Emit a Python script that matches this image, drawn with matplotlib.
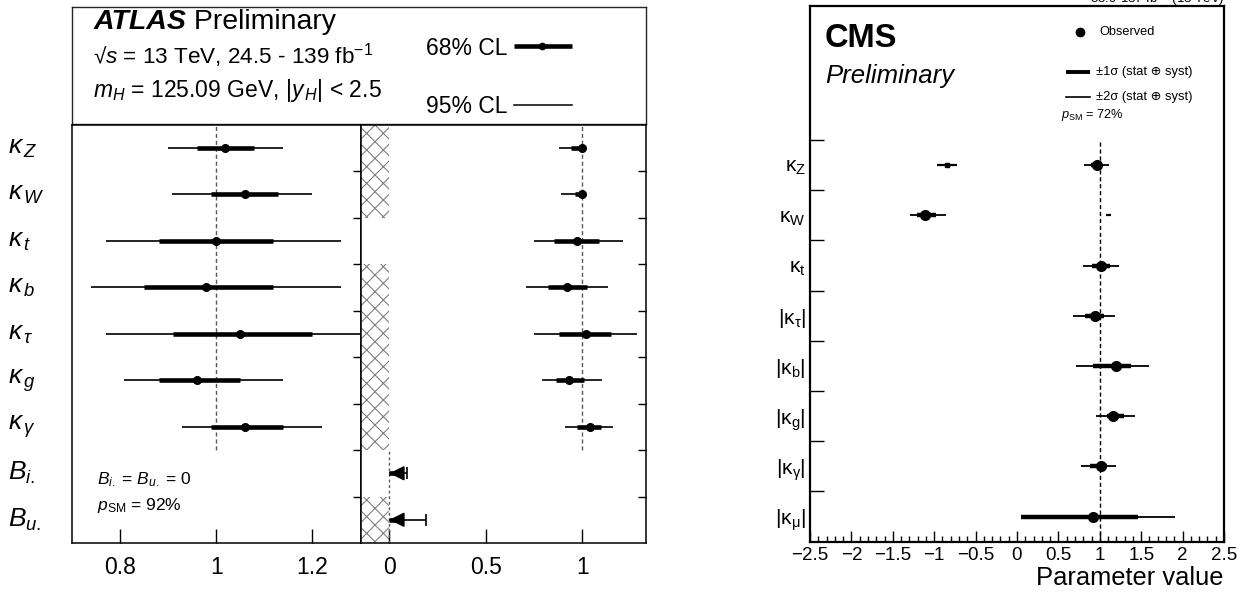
import matplotlib
matplotlib.use('Agg')
import matplotlib.pyplot as plt
import numpy as np
from matplotlib.ticker import MultipleLocator, FixedLocator

plt.rcParams['font.family'] = ['Liberation Sans', 'DejaVu Sans']
plt.rcParams['mathtext.fontset'] = 'custom'
plt.rcParams['mathtext.rm'] = 'Liberation Sans'
plt.rcParams['mathtext.it'] = 'Liberation Sans:italic'
plt.rcParams['mathtext.bf'] = 'Liberation Sans:bold'
plt.rcParams['mathtext.sf'] = 'Liberation Sans'
plt.rcParams['hatch.linewidth'] = 0.8

# ---------------- ATLAS data ----------------
atlas_labels = [r'$\kappa_{\,Z}$', r'$\kappa_{\,W}$', r'$\kappa_{\,t}$', r'$\kappa_{\,b}$',
                r'$\kappa_{\,\tau}$', r'$\kappa_{\,g}$', r'$\kappa_{\,\gamma}$',
                r'$B_{i.}$', r'$B_{u.}$']
# left panel (kappa, B_i.=B_u.=0)
left_c   = [1.019, 1.059, 1.000, 0.979, 1.049, 0.959, 1.059]
left_lo1 = [0.961, 0.990, 0.881, 0.850, 0.910, 0.881, 0.990]
left_hi1 = [1.079, 1.128, 1.119, 1.119, 1.199, 1.049, 1.138]
left_lo2 = [0.899, 0.908, 0.770, 0.739, 0.770, 0.809, 0.929]
left_hi2 = [1.139, 1.200, 1.259, 1.259, 1.320, 1.139, 1.219]
# middle panel (B free, kappa_V <= 1)
mid_c   = [1.000, 1.000, 0.971, 0.921, 1.019, 0.931, 1.040]
mid_lo1 = [0.941, 0.960, 0.853, 0.822, 0.881, 0.862, 0.974]
mid_hi1 = [1.000, 1.000, 1.088, 1.022, 1.149, 1.010, 1.095]
mid_lo2 = [0.879, 0.889, 0.750, 0.708, 0.750, 0.789, 0.910]
mid_hi2 = [1.000, 1.000, 1.212, 1.131, 1.282, 1.102, 1.161]
b_up1 = [0.065, 0.05]
b_up2 = [0.09, 0.19]
hatched = [1, 1, 0, 1, 1, 1, 1, 0, 1]

# ---------------- CMS data ----------------
cms_labels = [r'$\mathrm{\kappa_{Z}}$', r'$\mathrm{\kappa_{W}}$', r'$\mathrm{\kappa_{t}}$',
              r'$\mathrm{|\kappa_{\tau}|}$', r'$\mathrm{|\kappa_{b}|}$', r'$\mathrm{|\kappa_{g}|}$',
              r'$\mathrm{|\kappa_{\gamma}|}$', r'$\mathrm{|\kappa_{\mu}|}$']
cms_c   = [0.962, -1.108, 1.011, 0.938, 1.192, 1.165, 1.011, 0.922]
cms_lo1 = [0.890, -1.208, 0.910, 0.817, 0.914, 1.090, 0.880, 0.054]
cms_hi1 = [1.030, -0.975, 1.123, 1.051, 1.382, 1.293, 1.090, 1.460]
cms_lo2 = [0.809, -1.289, 0.797, 0.672, 0.717, 0.954, 0.769, 0.054]
cms_hi2 = [1.108, -0.853, 1.233, 1.180, 1.597, 1.423, 1.197, 1.910]
# secondary minima (kappa_Z, kappa_W)
alt_c  = [-0.845, np.nan]
alt_lo = [-0.966, 1.071]
alt_hi = [-0.724, 1.140]

W, H = 1249, 595
fig = plt.figure(figsize=(W / 100, H / 100), dpi=100)

def box(x0, y0, x1, y1):
    return [x0 / W, 1 - y1 / H, (x1 - x0) / W, (y1 - y0) / H]

ax_h = fig.add_axes(box(72, 6.7, 646, 124))
ax_l = fig.add_axes(box(72, 124.7, 360.5, 543))
ax_m = fig.add_axes(box(360.5, 124.7, 646, 543))
ax_c = fig.add_axes(box(810, 6, 1224, 541.7))

# ---------- ATLAS header ----------
ax_h.set_xlim(0, 1); ax_h.set_ylim(0, 1)
ax_h.set_xticks([]); ax_h.set_yticks([])
for s in ax_h.spines.values():
    s.set_linewidth(1.0); s.set_color('0.15')
t = ax_h.text(0.037, 0.807, 'ATLAS', fontsize=20.5, fontweight='bold', fontstyle='italic',
              va='baseline', ha='left')
ax_h.annotate(' Preliminary', xycoords=t, xy=(1, 0), va='bottom', ha='left', fontsize=20.5)
ax_h.text(0.037, 0.52, '√$s$ = 13 TeV, 24.5 - 139 fb$^{-1}$', fontsize=16.2, va='baseline')
ax_h.text(0.037, 0.233, r'$m_{H}$ = 125.09 GeV, |$y_{\,H}$| < 2.5', fontsize=16.5, va='baseline')
ax_h.text(0.617, 0.588, '68% CL', fontsize=16.5, va='baseline')
ax_h.plot([0.770, 0.871], [0.667, 0.667], color='k', lw=3.3, solid_capstyle='butt')
ax_h.plot([0.819], [0.667], 'o', color='k', ms=4.5)
ax_h.text(0.617, 0.094, '95% CL', fontsize=16.5, va='baseline')
ax_h.plot([0.770, 0.871], [0.162, 0.162], color='k', lw=1.1)

ys = np.arange(9)[::-1] + 0.5
yk = ys[:7]

def style_atlas(ax, xlim, xt, xtl):
    ax.set_xlim(*xlim)
    ax.set_ylim(0, 9)
    ax.set_xticks(xt)
    ax.set_xticklabels(xtl)
    ax.tick_params(axis='x', direction='in', length=10, width=1, labelsize=16.5, pad=9, top=False)
    ax.set_yticks([])
    ax.yaxis.set_minor_locator(FixedLocator(np.arange(1, 9)))
    ax.tick_params(axis='y', which='minor', direction='in', length=6, width=1,
                   left=False, right=True)
    for s in ax.spines.values():
        s.set_linewidth(1.1)

# ---------- ATLAS left ----------
style_atlas(ax_l, (0.7, 1.3), [0.8, 1.0, 1.2], ['0.8', '1', '1.2'])
ax_l.vlines(1, 2, 9, colors='0.35', linestyles=(0, (3, 2)), lw=1)
ax_l.hlines(yk, left_lo2, left_hi2, color='k', lw=1.2)
ax_l.hlines(yk, left_lo1, left_hi1, color='k', lw=3.3)
ax_l.plot(left_c, yk, 'o', color='k', ms=5.5)
for lab, y in zip(atlas_labels, ys):
    ax_l.text(-0.222, y, lab, transform=ax_l.get_yaxis_transform(), fontsize=19,
              ha='left', va='center')
ax_l.text(0.086, 0.141, r'$B_{i.}$ = $B_{u.}$ = 0', transform=ax_l.transAxes,
          fontsize=12.5, va='baseline')
ax_l.text(0.086, 0.079, r'$p_{\mathrm{SM}}$ = 92%', transform=ax_l.transAxes,
          fontsize=12.5, va='baseline')

# ---------- ATLAS middle ----------
style_atlas(ax_m, (-0.15, 1.33), [0, 0.5, 1.0], ['0', '0.5', '1'])
hy = ys[np.array(hatched, dtype=bool)]
ax_m.barh(hy, 0.15, left=-0.15, height=1.0, fill=False, hatch='xx',
          edgecolor='0.5', lw=0)
ax_m.vlines(1, 2, 9, colors='0.35', linestyles=(0, (3, 2)), lw=1)
ax_m.vlines(0, 0, 2, colors='0.35', linestyles=(0, (2, 2)), lw=1)
ax_m.hlines(yk, mid_lo2, mid_hi2, color='k', lw=1.2)
ax_m.hlines(yk, mid_lo1, mid_hi1, color='k', lw=3.3)
ax_m.plot(mid_c, yk, 'o', color='k', ms=5.5)
yb = ys[7:]
ax_m.hlines(yb, 0, b_up2, color='k', lw=1.2)
ax_m.hlines(yb, 0, b_up1, color='k', lw=3.3)
ax_m.plot(b_up2, yb, '|', color='k', ms=9, mew=1.2)
for up, y in zip(b_up2, yb):
    ax_m.annotate('', xy=(0, y), xytext=(0.04, y),
                  arrowprops=dict(arrowstyle='-|>,head_length=0.6,head_width=0.3',
                                  color='k', lw=1.2, shrinkA=0, shrinkB=0,
                                  mutation_scale=15))

# ---------- CMS ----------
ax_c.set_xlim(-2.5, 2.5)
ax_c.set_ylim(0, 10.67)
ax_c.set_xticks(np.arange(-2.5, 2.51, 0.5))
ax_c.set_xticklabels(['−2.5', '−2', '−1.5', '−1', '−0.5', '0', '0.5', '1', '1.5', '2', '2.5'])
ax_c.xaxis.set_minor_locator(MultipleLocator(0.1))
ax_c.tick_params(axis='x', which='major', direction='in', length=8, width=1,
                 labelsize=13.5, pad=4, top=False)
ax_c.tick_params(axis='x', which='minor', direction='in', length=4, width=1, top=False)
yc = np.arange(8)[::-1] + 0.5
ax_c.set_yticks(yc)
ax_c.set_yticklabels(cms_labels)
ax_c.tick_params(axis='y', which='major', length=0, labelsize=15, pad=3)
ax_c.yaxis.set_minor_locator(FixedLocator(np.arange(1, 9)))
ax_c.tick_params(axis='y', which='minor', direction='in', length=10, width=1,
                 left=True, right=False)
for s in ax_c.spines.values():
    s.set_linewidth(1.6)
ax_c.vlines(1, 0, 8, colors='k', linestyles=(0, (3, 2)), lw=1)
ax_c.hlines(yc, cms_lo2, cms_hi2, color='k', lw=1.3)
ax_c.hlines(yc, cms_lo1, cms_hi1, color='k', lw=3.2)
ax_c.plot(cms_c, yc, 'o', color='k', ms=7)
ya = yc[:2]
ax_c.hlines(ya, alt_lo, alt_hi, color='k', lw=1.6)
ax_c.plot(alt_c, ya, 's', color='k', ms=2.5)

ax_c.text(0.036, 0.923, 'CMS', transform=ax_c.transAxes, fontsize=23.5,
          fontweight='bold', va='baseline')
ax_c.text(0.036, 0.856, 'Preliminary', transform=ax_c.transAxes, fontsize=18.5,
          fontstyle='italic', va='baseline')
ax_c.plot([0.652], [0.951], 'o', color='k', ms=6, transform=ax_c.transAxes)
ax_c.text(0.700, 0.951, 'Observed', transform=ax_c.transAxes, fontsize=9.2, va='center')
ax_c.plot([0.618, 0.676], [0.876, 0.876], color='k', lw=2.8, transform=ax_c.transAxes,
          solid_capstyle='butt')
ax_c.text(0.691, 0.876, '±1σ (stat ⊕ syst)', transform=ax_c.transAxes, fontsize=9.3,
          va='center')
ax_c.plot([0.618, 0.676], [0.831, 0.831], color='k', lw=1.2, transform=ax_c.transAxes)
ax_c.text(0.691, 0.831, '±2σ (stat ⊕ syst)', transform=ax_c.transAxes, fontsize=9.3,
          va='center')
ax_c.text(0.606, 0.791, r'$p_{\mathrm{SM}}$ = 72%', transform=ax_c.transAxes,
          fontsize=9.2, va='baseline')

fig.text(1224 / W, 1 - 578 / H, 'Parameter value', fontsize=18.4, ha='right', va='center')
fig.text(1224 / W, 1 - 3 / H, '35.9-137 fb$^{-1}$ (13 TeV)', fontsize=9.5, ha='right',
         va='baseline')

fig.savefig('out.png', dpi=100)
